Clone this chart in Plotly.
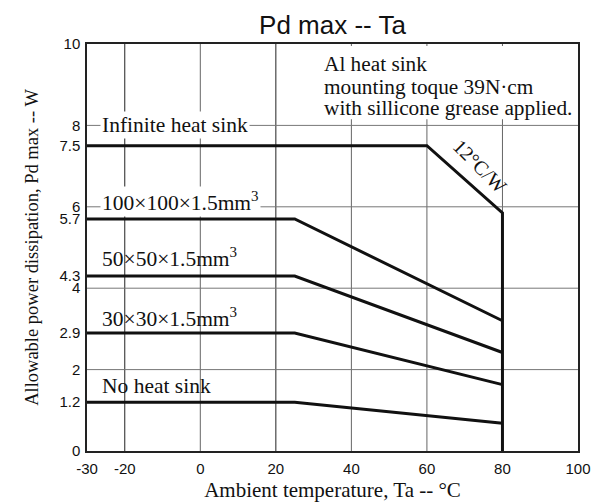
import plotly.graph_objects as go

# Data
x_inf = [-30, 60, 80, 80]
y_inf = [7.5, 7.5, 5.85, 0]
x_hs = [-30, 25, 80]
y_100 = [5.7, 5.7, 3.2]
y_50 = [4.3, 4.3, 2.42]
y_30 = [2.9, 2.9, 1.63]
y_none = [1.2, 1.2, 0.68]

x_ticks = [-30, -20, 0, 20, 40, 60, 80, 100]
y_ticks = [0, 1.2, 2, 2.9, 4, 4.3, 5.7, 6, 7.5, 8, 10]
x_grid = [-20, 0, 20, 40, 60, 80]
y_grid = [2, 4, 6, 8]

labels = ["Infinite heat sink", "100×100×1.5mm<sup>3</sup>", "50×50×1.5mm<sup>3</sup>",
          "30×30×1.5mm<sup>3</sup>", "No heat sink"]
label_y = [8.0, 6.12, 4.75, 3.27, 1.6]
label_bg = [True, True, False, False, False]

note_lines = ["Al heat sink", "mounting toque 39N·cm", "with sillicone grease applied."]
note_y = [9.5, 8.95, 8.42]

fig = go.Figure()
line = dict(color="#111111", width=3)
fig.add_trace(go.Scatter(x=x_inf, y=y_inf, mode="lines", line=line))
for ys in [y_100, y_50, y_30, y_none]:
    fig.add_trace(go.Scatter(x=x_hs, y=ys, mode="lines", line=line))

shapes = []
for gx in x_grid:
    shapes.append(dict(type="line", xref="x", yref="y", x0=gx, x1=gx, y0=0, y1=10,
                       line=dict(color="#222222" if gx in (-20, 20) else "#666666", width=1),
                       layer="below"))
for gy in y_grid:
    shapes.append(dict(type="line", xref="x", yref="y", x0=-30, x1=100, y0=gy, y1=gy,
                       line=dict(color="#777777", width=1), layer="below"))
# white background behind the note block
shapes.append(dict(type="rect", xref="x", yref="y", x0=32, x1=99.5, y0=8.15, y1=9.95,
                   fillcolor="white", line=dict(width=0), layer="below"))
fig.update_layout(shapes=shapes)

serif = "Liberation Serif"
sans = "Liberation Sans"
for txt, ly, bg in zip(labels, label_y, label_bg):
    fig.add_annotation(x=-26.5, y=ly, xref="x", yref="y", text=txt, showarrow=False,
                       xanchor="left", yanchor="middle",
                       font=dict(family=serif, size=21.5, color="#111111"),
                       bgcolor="white" if bg else None, borderpad=1)

for txt, ny in zip(note_lines, note_y):
    fig.add_annotation(x=32.3, y=ny, xref="x", yref="y", text=txt, showarrow=False,
                       xanchor="left", yanchor="middle", align="left",
                       font=dict(family=serif, size=21.3, color="#111111"))

fig.add_annotation(x=74.0, y=7.0, xref="x", yref="y", text="12°C/W", showarrow=False,
                   textangle=45, font=dict(family=serif, size=20, color="#111111"))

W, H = 595, 494  # page body has an 8px margin in the viewer
fig.update_layout(
    width=W, height=H,
    margin=dict(l=79, r=25, t=36, b=51),
    paper_bgcolor="white", plot_bgcolor="white",
    showlegend=False,
    title=dict(text="Pd max -- Ta", x=0.5, xref="paper", y=1 - 17 / H, yref="container",
               xanchor="center", yanchor="middle",
               font=dict(family=sans, size=26, color="#111111")),
    xaxis=dict(range=[-30, 100], tickvals=x_ticks, ticktext=[str(v) for v in x_ticks],
               showgrid=False, zeroline=False, showline=True, mirror=True,
               linecolor="#222222", linewidth=1.5, ticks="", ticklen=0, automargin=False,
               ticklabelstandoff=3,
               tickfont=dict(family=sans, size=15, color="#111111"),
               title=dict(text="Ambient temperature, Ta -- °C", standoff=8,
                          font=dict(family=serif, size=21, color="#111111"))),
    yaxis=dict(range=[0, 10], tickvals=y_ticks, ticktext=[str(v) for v in y_ticks],
               showgrid=False, zeroline=False, showline=True, mirror=True,
               linecolor="#222222", linewidth=1.5, ticks="", ticklen=0, automargin=False,
               ticklabelstandoff=2,
               tickfont=dict(family=sans, size=15, color="#111111"),
               title=dict(text="Allowable power dissipation, Pd max -- W", standoff=16,
                          font=dict(family=serif, size=18.5, color="#111111"))),
)

fig.write_html("out.html")
